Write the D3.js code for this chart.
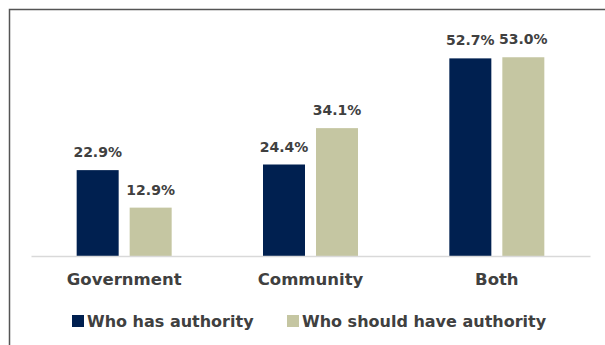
<!doctype html>
<html lang="en">
<head>
<meta charset="utf-8">
<title>authority bars</title>
<script src="https://d3js.org/d3.v7.min.js"></script>
<style>
  body { margin: 0; background: #fff; }
  text { font-family: "DejaVu Sans", sans-serif; font-weight: bold; fill: #404040; }
</style>
</head>
<body>
<div id="chart"></div>
<script>
var categories = ["Government", "Community", "Both"];
var series = ["Who has authority", "Who should have authority"];
var hasValues = [22.9, 24.4, 52.7];
var shouldValues = [12.9, 34.1, 53.0];
var colours = ["#002050", "#c5c6a2"];

var width = 605, height = 345;
var svg = d3.select("#chart").append("svg")
  .attr("width", width)
  .attr("height", height);

// frame (only top and left edges show in the crop)
svg.append("path")
  .attr("d", "M9.5,345 V9.5 H605")
  .attr("fill", "none")
  .attr("stroke", "#555")
  .attr("stroke-width", 1.5);

var rows = categories.map(function (c, i) {
  return { cat: c, vals: [hasValues[i], shouldValues[i]] };
});

var x0 = d3.scaleBand().domain(categories).range([31, 590]).padding(0);
var groupW = 95;
var x1 = d3.scaleBand().domain(series).range([0, groupW]).paddingInner(0.2075);
var y = d3.scaleLinear().domain([0, 60]).range([256, 31]);

var groups = svg.selectAll(".grp").data(rows).enter().append("g")
  .attr("class", "grp")
  .attr("transform", function (d) {
    return "translate(" + (x0(d.cat) + (x0.bandwidth() - groupW) / 2) + ",0)";
  });

groups.selectAll("rect").data(function (d) {
  return d.vals.map(function (v, i) { return { s: series[i], v: v, i: i }; });
}).enter().append("rect")
  .attr("x", function (d) { return x1(d.s); })
  .attr("y", function (d) { return y(d.v); })
  .attr("width", x1.bandwidth())
  .attr("height", function (d) { return y(0) - y(d.v); })
  .attr("fill", function (d) { return colours[d.i]; });

groups.selectAll(".lbl").data(function (d) {
  return d.vals.map(function (v, i) { return { s: series[i], v: v }; });
}).enter().append("text")
  .attr("class", "lbl")
  .attr("x", function (d) { return x1(d.s) + x1.bandwidth() / 2; })
  .attr("y", function (d) { return y(d.v) - 13; })
  .attr("text-anchor", "middle")
  .style("font-size", "14px")
  .text(function (d) { return d.v.toFixed(1) + "%"; });

// baseline + category labels
var xAxis = d3.axisBottom(x0).tickSize(0).tickPadding(17);
var ax = svg.append("g").attr("transform", "translate(0," + y(0) + ")").call(xAxis);
ax.select(".domain").attr("stroke", "#d9d9d9").attr("stroke-width", 1.5);
ax.selectAll(".tick text")
  .style("font-size", "16.5px")
  .style("font-family", "'DejaVu Sans', sans-serif")
  .attr("fill", "#404040");

// legend
var legX = [72, 287];
var leg = svg.selectAll(".leg").data(series).enter().append("g")
  .attr("class", "leg")
  .attr("transform", function (d, i) { return "translate(" + legX[i] + ",315)"; });
leg.append("rect").attr("width", 12).attr("height", 12)
  .attr("fill", function (d, i) { return colours[i]; });
leg.append("text").attr("x", 15).attr("y", 12)
  .style("font-size", "16px")
  .text(function (d) { return d; });
</script>
</body>
</html>
